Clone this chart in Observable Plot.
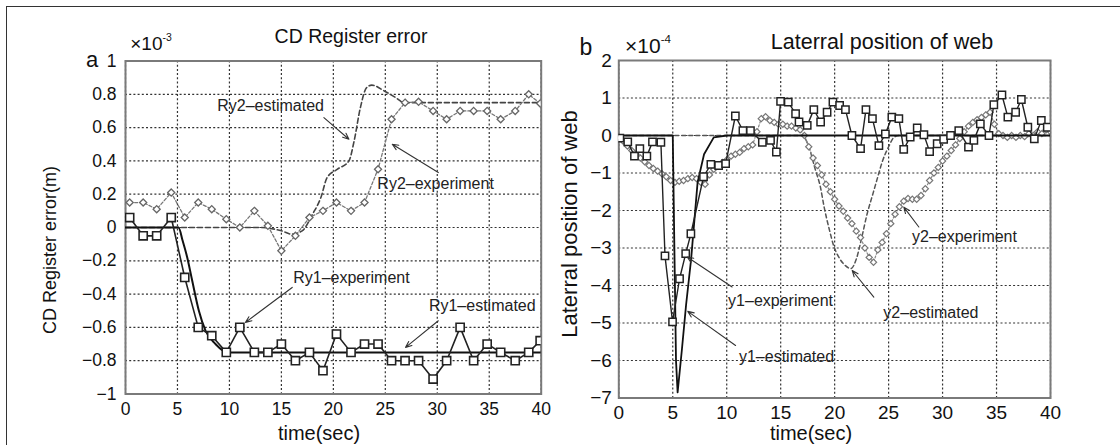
<!DOCTYPE html>
<html><head><meta charset="utf-8">
<script src="https://cdn.jsdelivr.net/npm/d3@7"></script>
<script src="https://cdn.jsdelivr.net/npm/@observablehq/plot@0.6"></script>
<style>
body{margin:0;background:#fff;}
#wrap{position:relative;width:1120px;height:445px;overflow:hidden;font-family:"Liberation Sans",Arial,sans-serif;color:#111;background:#fff;}
#box{position:absolute;left:6px;top:6px;width:1130px;height:450px;border-top:1.5px solid #333;border-left:1.5px solid #333;pointer-events:none;}
.lbl{position:absolute;transform:translate(-50%,-50%);line-height:1;white-space:nowrap;}
.rot{transform:translate(-50%,-50%) rotate(-90deg);}
.pl{position:absolute;top:0;}
sup{font-size:0.55em;vertical-align:0.85em;}
</style></head><body><div id="wrap"></div>
<script>
// ---------- Panel a : CD Register error (x10^-3 m) ----------
const xTicks = [0,5,10,15,20,25,30,35,40];
const xTickLabels = ["0","5","10","15","20","25","30","35","40"];
const yTicksA = [1,0.8,0.6,0.4,0.2,0,-0.2,-0.4,-0.6,-0.8,-1];
const yTickLabelsA = ["1","0.8","0.6","0.4","0.2","0","−0.2","−0.4","−0.6","−0.8","−1"];
const tExpA = [0.4,1.7,3.0,4.4,5.7,7.0,8.3,9.7,11.0,12.4,13.7,15.0,16.35,17.7,19.0,20.3,21.7,23.0,24.3,25.6,26.9,28.2,29.6,30.9,32.2,33.5,34.8,36.1,37.5,38.8,39.9];
const ry1Exp = [0.06,-0.05,-0.05,0.06,-0.3,-0.6,-0.65,-0.75,-0.6,-0.75,-0.75,-0.7,-0.8,-0.75,-0.86,-0.64,-0.75,-0.7,-0.7,-0.8,-0.8,-0.8,-0.91,-0.8,-0.6,-0.8,-0.7,-0.75,-0.8,-0.75,-0.68];
const ry2Exp = [0.15,0.15,0.11,0.21,0.06,0.15,0.11,0.05,0.0,0.10,0.01,-0.14,-0.05,0.06,0.10,0.15,0.10,0.15,0.35,0.65,0.75,0.755,0.70,0.65,0.70,0.70,0.70,0.65,0.70,0.80,0.745];
const tRy1Est = [0,5.1,5.5,5.94,6.42,7.06,7.7,8.66,9.8,40];
const ry1Est = [0,0,-0.08,-0.18,-0.32,-0.5,-0.62,-0.7,-0.75,-0.75];
const tRy2Est = [0,13,15,16,17,18,18.8,19.4,20.4,21.5,22.0,22.6,23.2,23.7,24.9,26,26.8,40];
const ry2Est = [0,0,-0.02,-0.04,-0.02,0.08,0.18,0.3,0.35,0.4,0.52,0.72,0.84,0.855,0.82,0.78,0.75,0.75];
const annTextA = ["Ry2–estimated","Ry2–experiment","Ry1–experiment","Ry1–estimated"];
const annXA = [13.96,29.84,21.74,34.33];
const annYA = [0.73,0.26,-0.30,-0.47];
const arrX1A = [19.09,30.1,16.04,30.1];
const arrY1A = [0.66,0.33,-0.36,-0.56];
const arrX2A = [21.5,25.67,11.55,26.95];
const arrY2A = [0.53,0.50,-0.57,-0.72];

// ---------- Panel b : Lateral position of web (x10^-4) ----------
const yTicksB = [2,1,0,-1,-2,-3,-4,-5,-6,-7];
const yTickLabelsB = ["2","1","0","−1","−2","−3","−4","−5","−6","−7"];
const tY1Exp = [0.1,0.83,1.45,1.95,2.6,3.12,3.9,4.28,4.98,5.63,6.2,6.68,7.85,8.53,9.25,9.9,10.8,11.5,12.2,13.3,14.06,14.6,14.99,15.7,16.38,16.7,17.46,18.07,18.7,19.3,19.84,20.46,21.0,21.6,22.4,22.9,23.5,24.1,24.7,25.3,25.95,26.4,27.0,27.65,28.27,28.8,29.5,30.1,30.74,31.5,32.4,32.9,33.5,34.3,34.75,35.5,36.05,36.77,37.3,37.9,38.5,39.15,39.7];
const y1Exp = [-0.07,-0.17,-0.55,-0.35,-0.55,-0.17,-0.18,-3.21,-4.97,-3.82,-3.15,-2.62,-1.1,-0.77,-0.8,-0.75,0.52,0.13,0.13,-0.18,-0.13,-0.44,0.91,0.89,0.58,0.36,0.27,0.69,0.36,0.62,0.89,0.8,0.69,0.0,-0.35,0.69,0.45,-0.27,0.04,0.49,0.45,-0.37,-0.04,0.2,0.02,-0.43,-0.22,-0.1,0.0,0.13,-0.31,-0.13,0.31,0.0,0.82,1.08,0.49,0.62,0.96,0.22,-0.09,0.4,0.22];
const tY2Exp = [0,0.4,0.8,1.2,1.6,2.0,2.4,2.8,3.2,3.6,4.0,4.4,4.8,5.2,5.6,6.0,6.4,6.8,7.2,7.6,8.0,8.4,8.8,9.2,9.6,10.0,10.4,10.8,11.2,11.6,12.0,12.4,12.8,13.2,13.6,14.0,14.4,14.8,15.2,15.6,16.0,16.4,16.8,17.2,17.6,18.0,18.4,18.8,19.2,19.6,20.0,20.4,20.8,21.2,21.6,22.0,22.4,22.8,23.2,23.6,24.0,24.4,24.8,25.2,25.6,26.0,26.4,26.8,27.2,27.6,28.0,28.4,28.8,29.2,29.6,30.0,30.4,30.8,31.2,31.6,32.0,32.4,32.8,33.2,33.6,34.0,34.4,34.8,35.2,35.6,36.0,36.4,36.8,37.2,37.6,38.0,38.4,38.8,39.2,39.6,40.0];
const y2Exp = [-0.05,-0.15,-0.28,-0.4,-0.5,-0.6,-0.7,-0.8,-0.88,-0.95,-1.02,-1.1,-1.2,-1.25,-1.22,-1.2,-1.15,-1.12,-1.15,-1.25,-1.3,-1.05,-0.9,-0.8,-0.72,-0.65,-0.55,-0.5,-0.45,-0.35,-0.3,-0.25,0.1,0.45,0.5,0.4,0.35,0.3,0.3,0.25,0.25,0.2,0.15,0.0,-0.3,-0.6,-0.8,-1.05,-1.3,-1.5,-1.7,-1.88,-2.02,-2.2,-2.35,-2.55,-2.72,-3.0,-3.25,-3.38,-3.05,-2.85,-2.62,-2.35,-2.1,-1.9,-1.75,-1.68,-1.7,-1.7,-1.6,-1.42,-1.2,-1.0,-0.85,-0.68,-0.55,-0.4,-0.25,-0.08,0.1,0.25,0.35,0.42,0.48,0.55,0.62,0.3,0.05,0.0,-0.05,0.0,-0.05,0.0,-0.03,0.05,0.0,0.1,0.05,0.15,0.1];
const tY1Est = [0,5.0,5.15,5.3,5.45,5.85,6.24,6.7,7.3,7.9,8.8,10.0,40];
const y1Est = [0,0,-3.0,-6.0,-6.85,-5.7,-4.5,-3.3,-1.25,-0.5,-0.05,0,0];
const tY2Est = [0,17.0,17.6,18.2,18.7,19.0,19.5,19.9,20.5,21.0,21.5,22.0,22.55,23.0,23.5,24.0,24.4,25.0,25.5,26.0,40];
const y2Est = [0,0,-0.3,-0.9,-1.4,-1.87,-2.5,-2.93,-3.3,-3.47,-3.55,-3.3,-2.67,-2.1,-1.6,-1.1,-0.71,-0.3,-0.05,0,0];
const annTextB = ["y1–experiment","y1–estimated","y2–experiment","y2–estimated"];
const annXB = [14.99,15.54,32.03,28.92];
const annYB = [-4.4,-5.91,-2.71,-4.73];
const arrX1B = [10.5,10.82,27.8,23.63];
const arrY1B = [-4.04,-5.6,-2.44,-4.31];
const arrX2B = [6.34,6.39,26.41,21.63];
const arrY2B = [-3.24,-4.69,-1.91,-3.6];

// ---------- helpers ----------
const FONT = '"Liberation Sans", Arial, sans-serif';
const zip = (xs, ys) => xs.map((x, i) => ({x, y: ys[i]}));
const ann = (txt, xs, ys) => txt.map((t, i) => ({t, x: xs[i], y: ys[i]}));
const arr = (x1, y1, x2, y2) => x1.map((v, i) => ({x1: v, y1: y1[i], x2: x2[i], y2: y2[i]}));
const labelOf = (ticks, labels) => d => labels[ticks.indexOf(d)];
const gridMarks = (yt) => [
  Plot.ruleY(yt, {stroke: "#333", strokeWidth: 1.2, strokeDasharray: "2,2.2"}),
  Plot.ruleX(xTicks, {stroke: "#333", strokeWidth: 1.2, strokeDasharray: "2,2.2"}),
  Plot.frame({stroke: "#7a7a7a", strokeWidth: 2})
];

const plotA = Plot.plot({
  width: 560, height: 445,
  marginLeft: 125, marginRight: 19.3, marginTop: 60.5, marginBottom: 51.5,
  style: {fontFamily: FONT, fontSize: "17.5px", color: "#111", background: "transparent", overflow: "visible"},
  x: {domain: [0, 40], ticks: xTicks, tickFormat: labelOf(xTicks, xTickLabels), tickSize: 0, tickPadding: 9, label: null},
  y: {domain: [-1, 1], ticks: yTicksA, tickFormat: labelOf(yTicksA, yTickLabelsA), tickSize: 0, tickPadding: 9, label: null},
  marks: [
    ...gridMarks(yTicksA),
    Plot.line(zip(tRy2Est, ry2Est), {x: "x", y: "y", stroke: "#444", strokeWidth: 1.6, strokeDasharray: "5,3", curve: "monotone-x", clip: true}),
    Plot.line(zip(tExpA, ry2Exp), {x: "x", y: "y", stroke: "#777", strokeWidth: 1.3, strokeDasharray: "3,2", clip: true}),
    Plot.line(zip(tRy1Est, ry1Est), {x: "x", y: "y", stroke: "#111", strokeWidth: 2, curve: "monotone-x", clip: true}),
    Plot.line(zip(tExpA, ry1Exp), {x: "x", y: "y", stroke: "#222", strokeWidth: 1.6, clip: true}),
    Plot.dot(zip(tExpA, ry2Exp), {x: "x", y: "y", symbol: "diamond2", r: 3.2, stroke: "#666", strokeWidth: 1.3, fill: "white", clip: true}),
    Plot.dot(zip(tExpA, ry1Exp), {x: "x", y: "y", symbol: "square", r: 4.6, stroke: "#222", strokeWidth: 1.6, fill: "white", clip: true}),
    Plot.arrow(arr(arrX1A, arrY1A, arrX2A, arrY2A), {x1: "x1", y1: "y1", x2: "x2", y2: "y2", stroke: "#333", strokeWidth: 1.1, headLength: 9, headAngle: 45}),
    Plot.text(ann(annTextA, annXA, annYA), {x: "x", y: "y", text: "t", fontSize: 16, fill: "#222"})
  ]
});

const plotB = Plot.plot({
  width: 560, height: 445,
  marginLeft: 58.3, marginRight: 70, marginTop: 60, marginBottom: 47.5,
  style: {fontFamily: FONT, fontSize: "19px", color: "#111", background: "transparent", overflow: "visible"},
  x: {domain: [0, 40], ticks: xTicks, tickFormat: labelOf(xTicks, xTickLabels), tickSize: 0, tickPadding: 7, label: null},
  y: {domain: [-7, 2], ticks: yTicksB, tickFormat: labelOf(yTicksB, yTickLabelsB), tickSize: 0, tickPadding: 7, label: null},
  marks: [
    ...gridMarks(yTicksB),
    Plot.line(zip(tY2Est, y2Est), {x: "x", y: "y", stroke: "#555", strokeWidth: 1.5, strokeDasharray: "4,3", curve: "monotone-x", clip: true}),
    Plot.line(zip(tY2Exp, y2Exp), {x: "x", y: "y", stroke: "#888", strokeWidth: 1.2, strokeDasharray: "2,2", clip: true}),
    Plot.dot(zip(tY2Exp, y2Exp), {x: "x", y: "y", symbol: "diamond2", r: 2.8, stroke: "#777", strokeWidth: 1.2, fill: "white", clip: true}),
    Plot.line(zip(tY1Est, y1Est), {x: "x", y: "y", stroke: "#111", strokeWidth: 1.8, clip: true}),
    Plot.line(zip(tY1Exp, y1Exp), {x: "x", y: "y", stroke: "#222", strokeWidth: 1.4, clip: true}),
    Plot.dot(zip(tY1Exp, y1Exp), {x: "x", y: "y", symbol: "square", r: 4.1, stroke: "#222", strokeWidth: 1.5, fill: "white", clip: true}),
    Plot.arrow(arr(arrX1B, arrY1B, arrX2B, arrY2B), {x1: "x1", y1: "y1", x2: "x2", y2: "y2", stroke: "#333", strokeWidth: 1.1, headLength: 9, headAngle: 45}),
    Plot.text(ann(annTextB, annXB, annYB), {x: "x", y: "y", text: "t", fontSize: 16, fill: "#222"})
  ]
});

const wrap = document.getElementById("wrap");
plotA.classList.add("pl"); plotA.style.left = "0px";
plotB.classList.add("pl"); plotB.style.left = "560px";
wrap.appendChild(plotA);
wrap.appendChild(plotB);

const texts = [
  {html: "CD Register error", x: 351, y: 37, size: 19.5},
  {html: "×10<sup>-3</sup>", x: 151, y: 43, size: 19},
  {html: "a", x: 92, y: 60, size: 22},
  {html: "time(sec)", x: 319, y: 433, size: 20},
  {html: "CD Register error(m)", x: 50, y: 250, size: 18, rot: true},
  {html: "Laterral position of web", x: 882, y: 43, size: 21.5},
  {html: "×10<sup>-4</sup>", x: 648, y: 45, size: 21},
  {html: "b", x: 586, y: 47, size: 23},
  {html: "time(sec)", x: 811, y: 433, size: 20},
  {html: "Laterral position of web", x: 570, y: 224, size: 22, rot: true}
];
for (const t of texts) {
  const d = document.createElement("div");
  d.className = "lbl" + (t.rot ? " rot" : "");
  d.style.left = t.x + "px"; d.style.top = t.y + "px"; d.style.fontSize = t.size + "px";
  d.innerHTML = t.html;
  wrap.appendChild(d);
}
const box = document.createElement("div"); box.id = "box"; wrap.appendChild(box);
</script></body></html>
